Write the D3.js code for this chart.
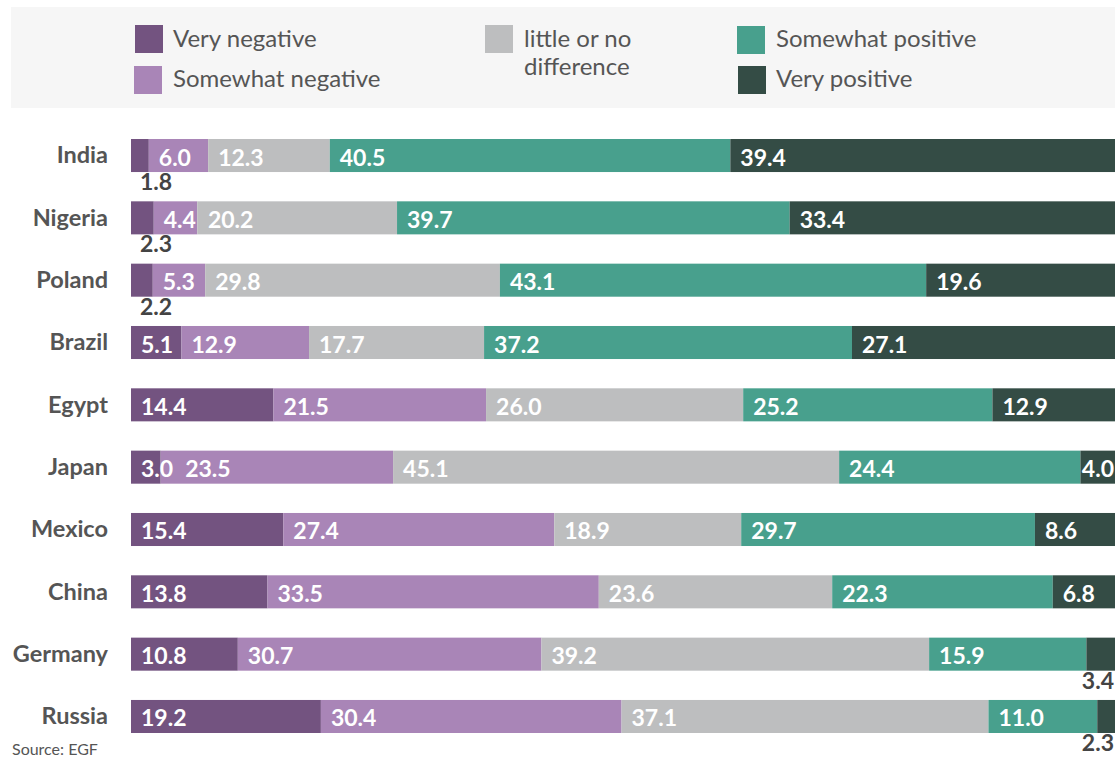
<!DOCTYPE html>
<html>
<head>
<meta charset="utf-8">
<script src="https://cdn.jsdelivr.net/npm/d3@7"></script>
<style>
  html, body { margin: 0; padding: 0; background: #fff; }
  svg { display: block; font-family: Lato, "Open Sans", sans-serif; }
</style>
</head>
<body>
<svg id="chart" width="1115" height="759"></svg>
<script>
const countries = ["India", "Nigeria", "Poland", "Brazil", "Egypt", "Japan", "Mexico", "China", "Germany", "Russia"];
const seriesNames = ["Very negative", "Somewhat negative", "little or no difference", "Somewhat positive", "Very positive"];
const veryNegative     = [1.8, 2.3, 2.2, 5.1, 14.4, 3.0, 15.4, 13.8, 10.8, 19.2];
const somewhatNegative = [6.0, 4.4, 5.3, 12.9, 21.5, 23.5, 27.4, 33.5, 30.7, 30.4];
const littleOrNo       = [12.3, 20.2, 29.8, 17.7, 26.0, 45.1, 18.9, 23.6, 39.2, 37.1];
const somewhatPositive = [40.5, 39.7, 43.1, 37.2, 25.2, 24.4, 29.7, 22.3, 15.9, 11.0];
const veryPositive     = [39.4, 33.4, 19.6, 27.1, 12.9, 4.0, 8.6, 6.8, 3.4, 2.3];
const colors = ["#735380", "#a985b7", "#bdbebf", "#48a08d", "#344c45"];
// labels drawn beneath the bar: [country, series index]
const labelsBelow = [["India", 0], ["Nigeria", 0], ["Poland", 0], ["Germany", 4], ["Russia", 4]];

const seriesValues = [veryNegative, somewhatNegative, littleOrNo, somewhatPositive, veryPositive];
const rows = countries.map((c, i) => {
  const o = { country: c };
  seriesNames.forEach((s, j) => o[s] = seriesValues[j][i]);
  return o;
});
const stacked = d3.stack().keys(seriesNames)(rows);

const W = 1115, H = 759;
const svg = d3.select("#chart");

const x = d3.scaleLinear().domain([0, 100]).range([131, 1120]);
const y = d3.scaleBand().domain(countries).range([139, 733]).paddingInner(0.47).paddingOuter(0);

// Legend background
svg.append("rect").attr("x", 11).attr("y", 7).attr("width", W - 11).attr("height", 101).attr("fill", "#f6f6f6");

const legendItems = [
  { i: 0, sx: 135, sy: 25, tx: 173, lines: ["Very negative"], ty: 47 },
  { i: 1, sx: 134, sy: 66, tx: 173, lines: ["Somewhat negative"], ty: 87 },
  { i: 2, sx: 485, sy: 25, tx: 524, lines: ["little or no", "difference"], ty: 47 },
  { i: 3, sx: 737, sy: 26, tx: 776, lines: ["Somewhat positive"], ty: 47 },
  { i: 4, sx: 738, sy: 66, tx: 776, lines: ["Very positive"], ty: 87 }
];
const lg = svg.append("g");
legendItems.forEach(d => {
  lg.append("rect").attr("x", d.sx).attr("y", d.sy).attr("width", 28).attr("height", 28).attr("fill", colors[d.i]);
  const t = lg.append("text").attr("x", d.tx).attr("y", d.ty).attr("fill", "#555").attr("font-size", 24);
  d.lines.forEach((l, k) => t.append("tspan").attr("x", d.tx).attr("dy", k === 0 ? 0 : 28).text(l));
});

// Bars
const g = svg.append("g");
stacked.forEach((layer, j) => {
  g.selectAll(null).data(layer).enter().append("rect")
    .attr("x", d => x(d[0]))
    .attr("y", d => y(d.data.country))
    .attr("width", d => x(d[1]) - x(d[0]))
    .attr("height", y.bandwidth())
    .attr("fill", colors[j]);
});

// Value labels
const isBelow = (c, j) => labelsBelow.some(p => p[0] === c && p[1] === j);
const lblG = svg.append("g");
countries.forEach((c, i) => {
  let prevEnd = -Infinity;
  stacked.forEach((layer, j) => {
    const d = layer[i];
    const below = isBelow(c, j);
    const t = lblG.append("text")
      .attr("font-size", 23)
      .attr("font-weight", "bold")
      .attr("fill", below ? "#444" : "#fff")
      .text((d[1] - d[0]).toFixed(1));
    const w = t.node().getComputedTextLength();
    let tx;
    if (below) {
      tx = Math.min(x(d[0]) + 9, W - w - 1);
      t.attr("y", y(c) + y.bandwidth() + 18);
    } else {
      tx = Math.min(Math.max(x(d[0]) + 10, prevEnd + 12), W - w - 1);
      prevEnd = tx + w;
      t.attr("y", y(c) + y.bandwidth() / 2 + 10);
    }
    t.attr("x", tx);
  });
});

// Country axis
const yAxis = d3.axisLeft(y).tickSize(0).tickPadding(0);
const ax = svg.append("g").attr("transform", "translate(108,0)").call(yAxis);
ax.select(".domain").remove();
ax.selectAll("text")
  .attr("font-family", "Lato, sans-serif")
  .attr("font-size", 23.5)
  .attr("font-weight", "bold")
  .attr("fill", "#555")
  .attr("dy", "0.33em");

// Source
svg.append("text").attr("x", 12).attr("y", 755).attr("fill", "#555").attr("font-size", 16).text("Source: EGF");
</script>
</body>
</html>
